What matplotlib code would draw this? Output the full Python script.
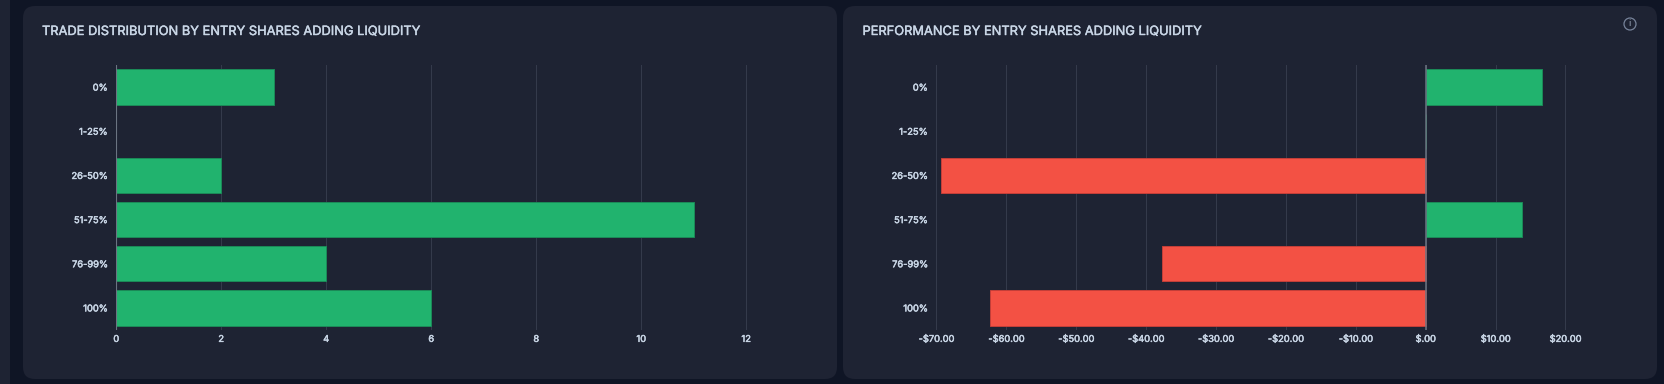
import matplotlib
matplotlib.use('Agg')
import matplotlib.pyplot as plt
import matplotlib.patheffects as pe
from matplotlib.patches import FancyBboxPatch, Circle

W = 1664
H = 384

categories = ['0%', '1-25%', '26-50%', '51-75%', '76-99%', '100%']
trade_counts = [3, 0, 2, 11, 4, 6]
performance = [16.7, 0, -69.3, 13.75, -37.7, -62.3]
count_ticks = [0, 2, 4, 6, 8, 10, 12]
perf_ticks = [-70, -60, -50, -40, -30, -20, -10, 0, 10, 20]
perf_labels = ['-$70.00', '-$60.00', '-$50.00', '-$40.00', '-$30.00', '-$20.00',
               '-$10.00', '$.00', '$10.00', '$20.00']
title_left = 'TRADE DISTRIBUTION BY ENTRY SHARES ADDING LIQUIDITY'
title_right = 'PERFORMANCE BY ENTRY SHARES ADDING LIQUIDITY'

BG = '#0f1525'
PANEL = '#1e2333'
GRID = '#343a4b'
AXIS = '#6b7482'
TEXT = '#c9d6e6'
GREEN = '#21b36e'
GREEN_EDGE = '#1b8a58'
RED = '#f35144'
RED_EDGE = '#c43f38'

plt.rcParams['font.family'] = ['Inter', 'DejaVu Sans']

fig = plt.figure(figsize=(W / 100, H / 100), dpi=100, facecolor=BG)

# Inter only comes in one weight here, so thicken the text with a thin stroke
title_fx = [pe.withStroke(linewidth=0.3, foreground=TEXT)]
tick_fx = [pe.withStroke(linewidth=0.35, foreground=TEXT)]

# background layer in pixel coordinates, y going down
bg = fig.add_axes([0, 0, 1, 1])
bg.set_xlim(0, W)
bg.set_ylim(H, 0)
bg.axis('off')


def panel(x0, x1, y0, y1):
    r = 12
    bg.add_patch(FancyBboxPatch((x0 + r, y0 + r), x1 - x0 - 2 * r, y1 - y0 - 2 * r,
                                boxstyle='round,pad=%d,rounding_size=%d' % (r, r),
                                fc=PANEL, ec='none'))


bg.fill_between([0, 10], 0, H, color=PANEL, lw=0)
panel(23, 837, 6, 379)
panel(843, 1657, 6, 379)
t1 = bg.text(42, 32, title_left, color=TEXT, fontsize=9.25, va='center')
t2 = bg.text(862.5, 32, title_right, color=TEXT, fontsize=9.25, va='center')
t1.set_path_effects(title_fx)
t2.set_path_effects(title_fx)
bg.add_patch(Circle((1630, 24), 6, fc='none', ec='#77839a', lw=0.9))
bg.text(1630, 24, 'i', color='#a3aec0', fontsize=6.5, ha='center', va='center')


def make_axes(px0, px1):
    ax = fig.add_axes([px0 / W, 1 - 330 / H, (px1 - px0) / W, 265 / H])
    ax.patch.set_alpha(0)
    for s in ax.spines.values():
        s.set_visible(False)
    ax.set_axisbelow(True)
    ax.grid(axis='x', color=GRID, lw=0.72)
    ax.set_ylim(5.5, -0.5)
    ax.set_yticks(range(len(categories)))
    ax.set_yticklabels(categories)
    ax.tick_params(axis='both', length=0, labelcolor=TEXT, labelsize=6.7)
    ax.tick_params(axis='y', pad=6.3)
    ax.tick_params(axis='x', pad=3.5)
    for lab in ax.get_xticklabels() + ax.get_yticklabels():
        lab.set_path_effects(tick_fx)
    return ax


ax1 = make_axes(116.2, 816.2)
ax1.barh(range(len(categories)), trade_counts, height=0.8, color=GREEN,
         edgecolor=GREEN_EDGE, linewidth=0.7, zorder=3)
ax1.set_xlim(0, 700 / 52.5)
ax1.set_xticks(count_ticks)
ax1.axvline(0, color=AXIS, lw=0.8, zorder=4)

ax2 = make_axes(936.3, 1635)
colors = [GREEN if v >= 0 else RED for v in performance]
edges = [GREEN_EDGE if v >= 0 else RED_EDGE for v in performance]
ax2.barh(range(len(categories)), performance, height=0.8, color=colors,
         edgecolor=edges, linewidth=0.7, zorder=3)
ax2.set_xlim(-70, -70 + (1635 - 936.3) / 6.99)
ax2.set_xticks(perf_ticks)
ax2.set_xticklabels(perf_labels)
for lab in ax2.get_xticklabels():
    lab.set_path_effects(tick_fx)
ax2.axvline(0, color=AXIS, lw=1.1, zorder=4)

plt.savefig('out.png', dpi=100, facecolor=BG)
